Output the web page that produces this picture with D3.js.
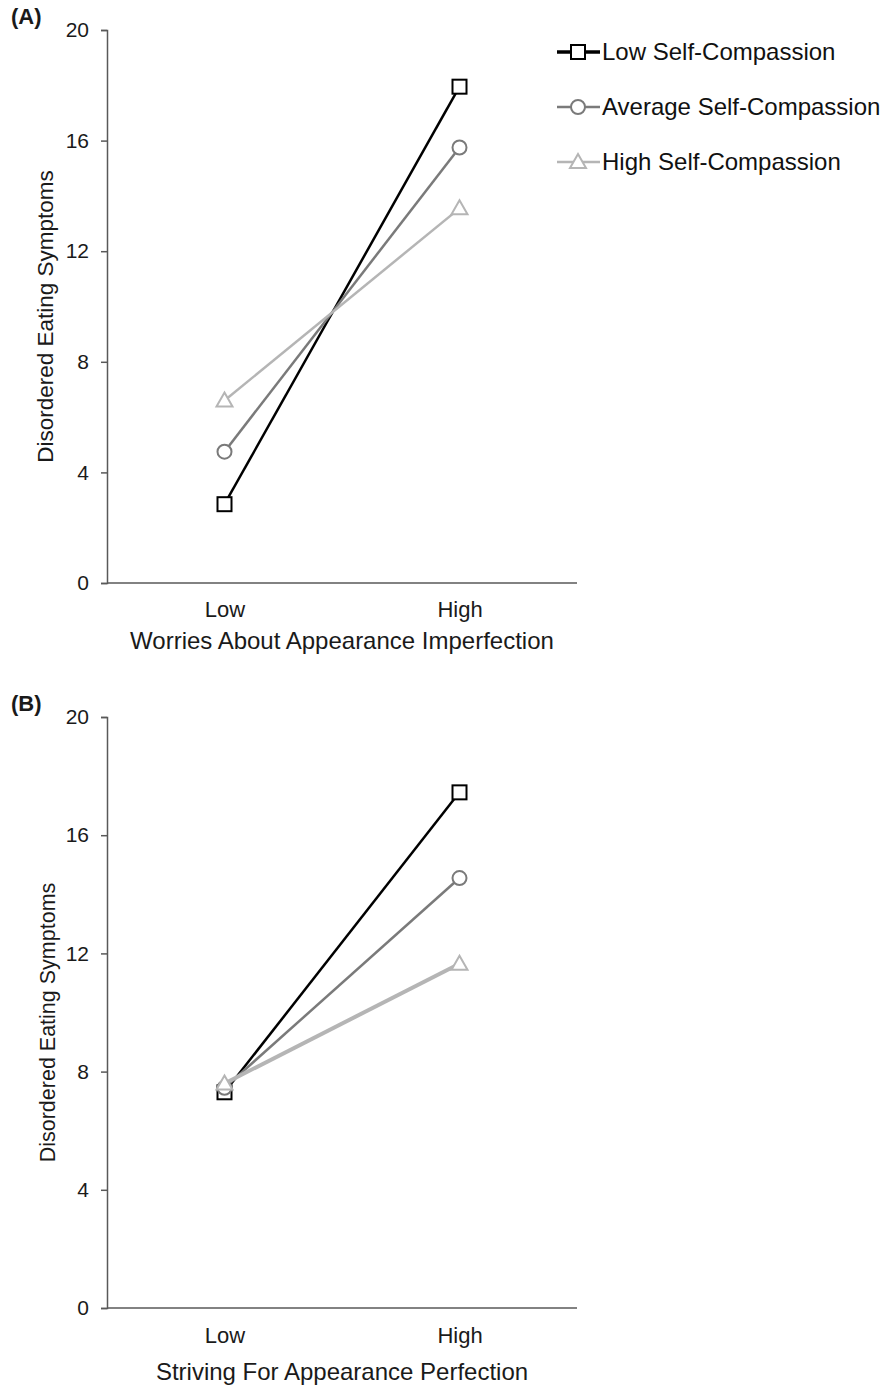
<!DOCTYPE html>
<html><head><meta charset="utf-8">
<script src="https://d3js.org/d3.v7.min.js"></script>
<style>body{margin:0;background:#fff}svg{display:block}text{font-family:"Liberation Sans",Arial,sans-serif}</style>
</head><body>
<script>
const categories = ["Low", "High"];
const seriesNames = ["Low Self-Compassion", "Average Self-Compassion", "High Self-Compassion"];
const panelA_low = [2.85, 17.95];
const panelA_avg = [4.75, 15.75];
const panelA_high = [6.6, 13.55];
const panelB_low = [7.3, 17.45];
const panelB_avg = [7.45, 14.55];
const panelB_high = [7.6, 11.65];
const yTicks = [0, 4, 8, 12, 16, 20];
const panelLabels = ["(A)", "(B)"];
const xTitles = ["Worries About Appearance Imperfection", "Striving For Appearance Perfection"];
const yTitle = "Disordered Eating Symptoms";

const colors = ["#000000", "#7a7a7a", "#b5b5b5"];
const shapes = ["square", "circle", "triangle"];

const svg = d3.select("body").append("svg").attr("width", 883).attr("height", 1387);

const panels = [
  {top: 30, bottom: 583, data: [panelA_low, panelA_avg, panelA_high], label: panelLabels[0], labelY: 24, xTitle: xTitles[0], tickY: 617, titleY: 649, yTitleX: 53, yTitleSize: 22.5, hw: [2.5, 2.5, 2.5]},
  {top: 717, bottom: 1308, data: [panelB_low, panelB_avg, panelB_high], label: panelLabels[1], labelY: 711, xTitle: xTitles[1], tickY: 1343, titleY: 1380, yTitleX: 55, yTitleSize: 21.5, hw: [2.5, 2.5, 4]}
];
const left = 107, right = 577;

function marker(g, shape, cx, cy, color) {
  if (shape === "square") {
    g.append("rect").attr("x", cx - 7).attr("y", cy - 7).attr("width", 14).attr("height", 14)
      .attr("fill", "#fff").attr("stroke", color).attr("stroke-width", 2);
  } else if (shape === "circle") {
    g.append("circle").attr("cx", cx).attr("cy", cy).attr("r", 7)
      .attr("fill", "#fff").attr("stroke", color).attr("stroke-width", 2);
  } else {
    g.append("path").attr("d", `M${cx},${cy - 8}L${cx + 8},${cy + 6}L${cx - 8},${cy + 6}Z`)
      .attr("fill", "#fff").attr("stroke", color).attr("stroke-width", 2);
  }
}

panels.forEach(p => {
  const x = d3.scalePoint().domain(categories).range([left, right]).padding(0.5);
  const y = d3.scaleLinear().domain([0, 20]).range([p.bottom, p.top]);
  const g = svg.append("g");

  // y axis
  const ya = g.append("g").attr("transform", `translate(${left},0)`)
    .call(d3.axisLeft(y).tickValues(yTicks).tickSize(6).tickPadding(12).tickFormat(d3.format("d")));
  ya.select(".domain").attr("stroke", "#595959").attr("stroke-width", 1.5);
  ya.selectAll(".tick line").attr("stroke", "#595959").attr("stroke-width", 1.5);
  ya.selectAll(".tick text").attr("font-size", 21).attr("fill", "#1a1a1a").attr("font-family", "Liberation Sans, Arial, sans-serif");

  // x axis
  const xa = g.append("g").attr("transform", `translate(0,${p.bottom})`)
    .call(d3.axisBottom(x).tickSize(0).tickPadding(0));
  xa.select(".domain").attr("stroke", "#595959").attr("stroke-width", 1.5).attr("d", `M${left},0H${right}`);
  xa.selectAll(".tick text").attr("y", p.tickY - p.bottom).attr("dy", "0").attr("font-size", 22).attr("fill", "#1a1a1a")
    .attr("font-family", "Liberation Sans, Arial, sans-serif");

  g.append("text").attr("x", (left + right) / 2).attr("y", p.titleY).attr("text-anchor", "middle")
    .attr("font-size", 24).attr("fill", "#1a1a1a").text(p.xTitle);
  g.append("text").attr("transform", `translate(${p.yTitleX},${(p.top + p.bottom) / 2 + 10}) rotate(-90)`)
    .attr("text-anchor", "middle").attr("font-size", p.yTitleSize).attr("fill", "#1a1a1a").text(yTitle);
  g.append("text").attr("x", 11).attr("y", p.labelY).attr("font-size", 22).attr("font-weight", "bold")
    .attr("fill", "#1a1a1a").text(p.label);

  p.data.forEach((vals, i) => {
    const pts = categories.map((c, j) => [x(c), y(vals[j])]);
    g.append("path").attr("d", d3.line()(pts)).attr("fill", "none")
      .attr("stroke", colors[i]).attr("stroke-width", p.hw[i]);
    pts.forEach(pt => marker(g, shapes[i], pt[0], pt[1], colors[i]));
  });
});

// legend
const lg = svg.append("g");
seriesNames.forEach((name, i) => {
  const yy = 52 + i * 55;
  lg.append("line").attr("x1", 557).attr("x2", 600).attr("y1", yy).attr("y2", yy)
    .attr("stroke", colors[i]).attr("stroke-width", i === 0 ? 3.5 : 2.5);
  marker(lg, shapes[i], 578, yy, colors[i]);
  lg.append("text").attr("x", 602).attr("y", yy + 8).attr("font-size", 24).attr("fill", "#111").text(name);
});
</script>
</body></html>
